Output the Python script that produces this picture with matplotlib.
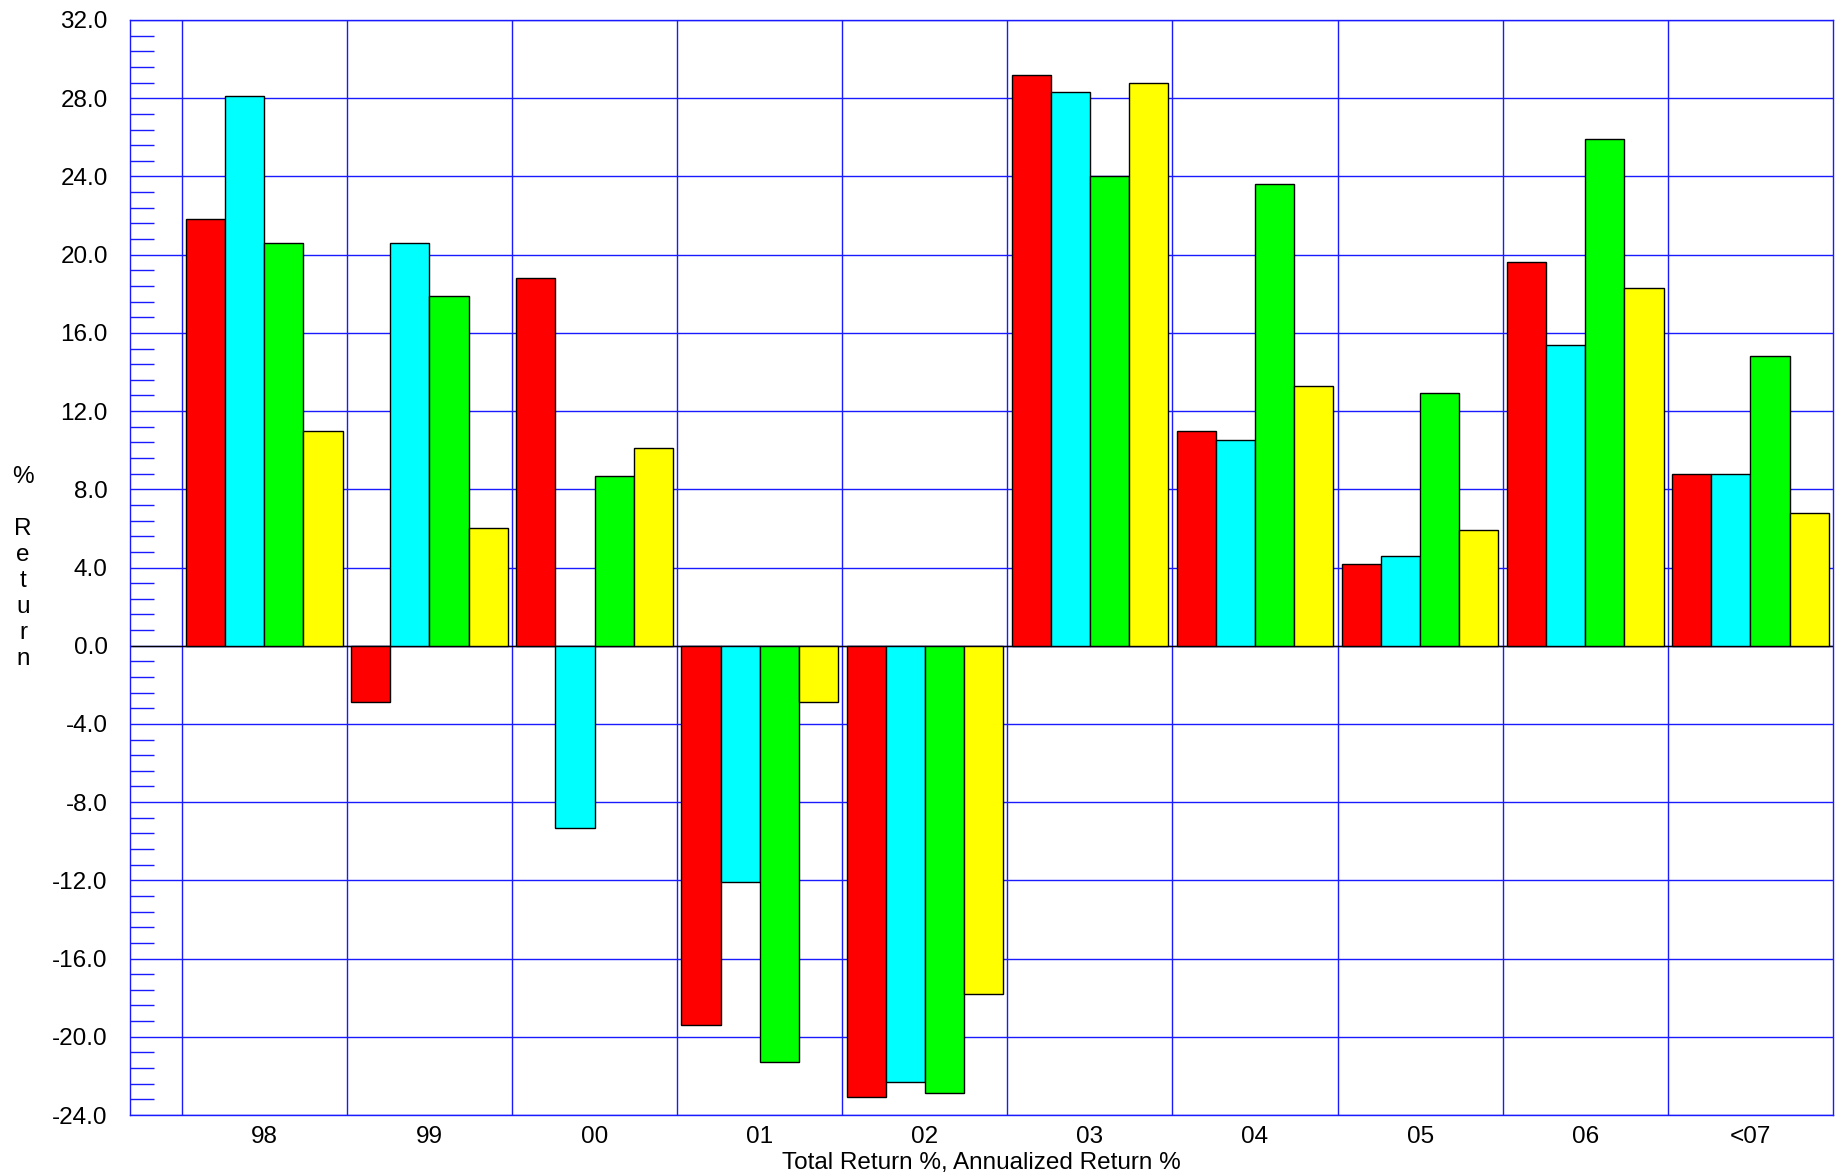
import matplotlib.pyplot as plt
import numpy as np
from matplotlib.ticker import MultipleLocator

years = ['98', '99', '00', '01', '02', '03', '04', '05', '06', '<07']
series_a = [21.8, -2.9, 18.8, -19.4, -23.1, 29.2, 11.0, 4.2, 19.6, 8.8]
series_b = [28.1, 20.6, -9.3, -12.1, -22.3, 28.3, 10.5, 4.6, 15.4, 8.8]
series_c = [20.6, 17.9, 8.7, -21.3, -22.9, 24.0, 23.6, 12.9, 25.9, 14.8]
series_d = [11.0, 6.0, 10.1, -2.9, -17.8, 28.8, 13.3, 5.9, 18.3, 6.8]

colors = ['#ff0000', '#00ffff', '#00ff00', '#ffff00']
grid_blue = '#1a1aff'

plt.rcParams['font.family'] = ['Liberation Sans', 'DejaVu Sans']
fs = 17.5

fig = plt.figure(figsize=(18.42, 11.73), dpi=100)
ax = fig.add_axes([130 / 1842, 1 - 1115 / 1173, (1833 - 130) / 1842, (1115 - 20) / 1173])

x = np.arange(len(years))
bw = 0.237
for i, vals in enumerate([series_a, series_b, series_c, series_d]):
    ax.bar(x - 1.5 * bw + i * bw, vals, width=bw, color=colors[i],
           edgecolor='black', linewidth=1.0, zorder=3)

ax.set_xlim(-0.813, len(years) - 0.5)
ax.set_ylim(-24, 32)

# group boundaries as vertical grid lines
for b in np.arange(-0.5, len(years) - 0.5, 1.0):
    ax.axvline(b, color=grid_blue, linewidth=1.0, zorder=1)
for yv in np.arange(-24, 33, 4):
    ax.axhline(yv, color=grid_blue, linewidth=1.0, zorder=1)
ax.axhline(0, color='black', linewidth=1.0, zorder=2)

ax.set_xticks(x)
ax.set_xticklabels(years, fontsize=fs)
ax.tick_params(axis='x', length=0, pad=8)

ax.yaxis.set_major_locator(MultipleLocator(4))
ax.yaxis.set_minor_locator(MultipleLocator(0.8))
ax.set_yticklabels([f'{v:.1f}' for v in ax.get_yticks()], fontsize=fs)
ax.tick_params(axis='y', which='major', length=0, pad=16)
ax.tick_params(axis='y', which='minor', direction='in', length=17,
               color=grid_blue, width=1.0)

for s in ax.spines.values():
    s.set_color(grid_blue)
    s.set_linewidth(1.0)

ax.set_xlabel('Total Return %, Annualized Return %', fontsize=fs, labelpad=3)
fig.text(23 / 1842, 1 - 568 / 1173, '%\n\nR\ne\nt\nu\nr\nn', fontsize=fs,
         ha='center', va='center', linespacing=1.23)

fig.savefig('out.png', dpi=100)
